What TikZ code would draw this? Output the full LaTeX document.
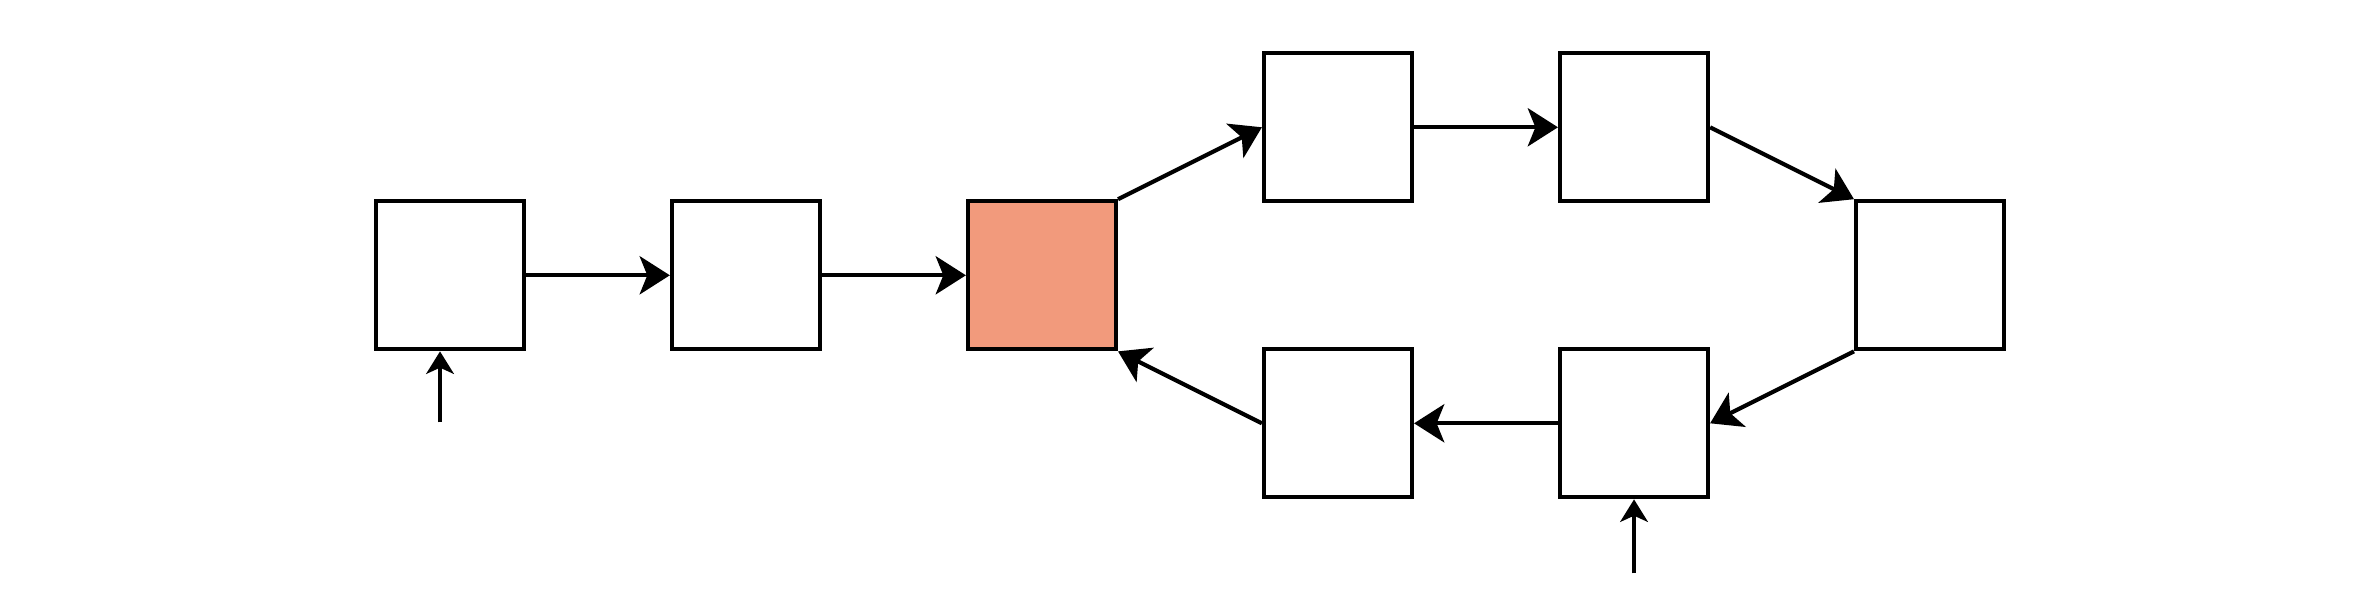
\documentclass[tikz,border=0pt]{standalone}
\usepackage{tikz}
\usetikzlibrary{matrix,arrows.meta}
\definecolor{hotcell}{RGB}{242,154,124}

\begin{document}
\begin{tikzpicture}[stage/.style={draw, line width=1.2pt, minimum width=1.5cm, minimum height=1.5cm, inner sep=0pt},
	link/.style={line width=1.2pt, -{Stealth[length=8.7pt, width=11pt, inset=2.2pt]}},
	feed/.style={line width=1pt, -{Stealth[length=6.5pt, width=8pt, inset=1.8pt]}}]
	\useasboundingbox (-12.06,-3.33) rectangle (12.06,2.79);
	\matrix[matrix of nodes, name=m, nodes=stage, column sep = 1.458cm, row sep = -1.2pt] {
		&&& {} & {} & \\
		{} & {} & |[fill=hotcell]| {} &&& {} \\
		&&& {} & {} & \\ };
	\path[link]
	(m-2-1) edge (m-2-2)
	(m-2-2) edge (m-2-3)
	(m-2-3.north east) edge (m-1-4.west)
	(m-1-4) edge (m-1-5)
	(m-1-5.east) edge (m-2-6.north west)
	(m-2-6.south west) edge (m-3-5.east)
	(m-3-5) edge (m-3-4)
	(m-3-4.west) edge (m-2-3.south east);
	% inputs from below
	\coordinate (inA) at ([xshift=-1mm, yshift=-7.2mm]m-2-1.south);
	\coordinate (inG) at ([yshift=-7.5mm]m-3-5.south);
	\draw[feed] (inA) -- (inA |- m-2-1.south);
	\draw[feed] (inG) -- (m-3-5.south);
\end{tikzpicture}
\end{document}
